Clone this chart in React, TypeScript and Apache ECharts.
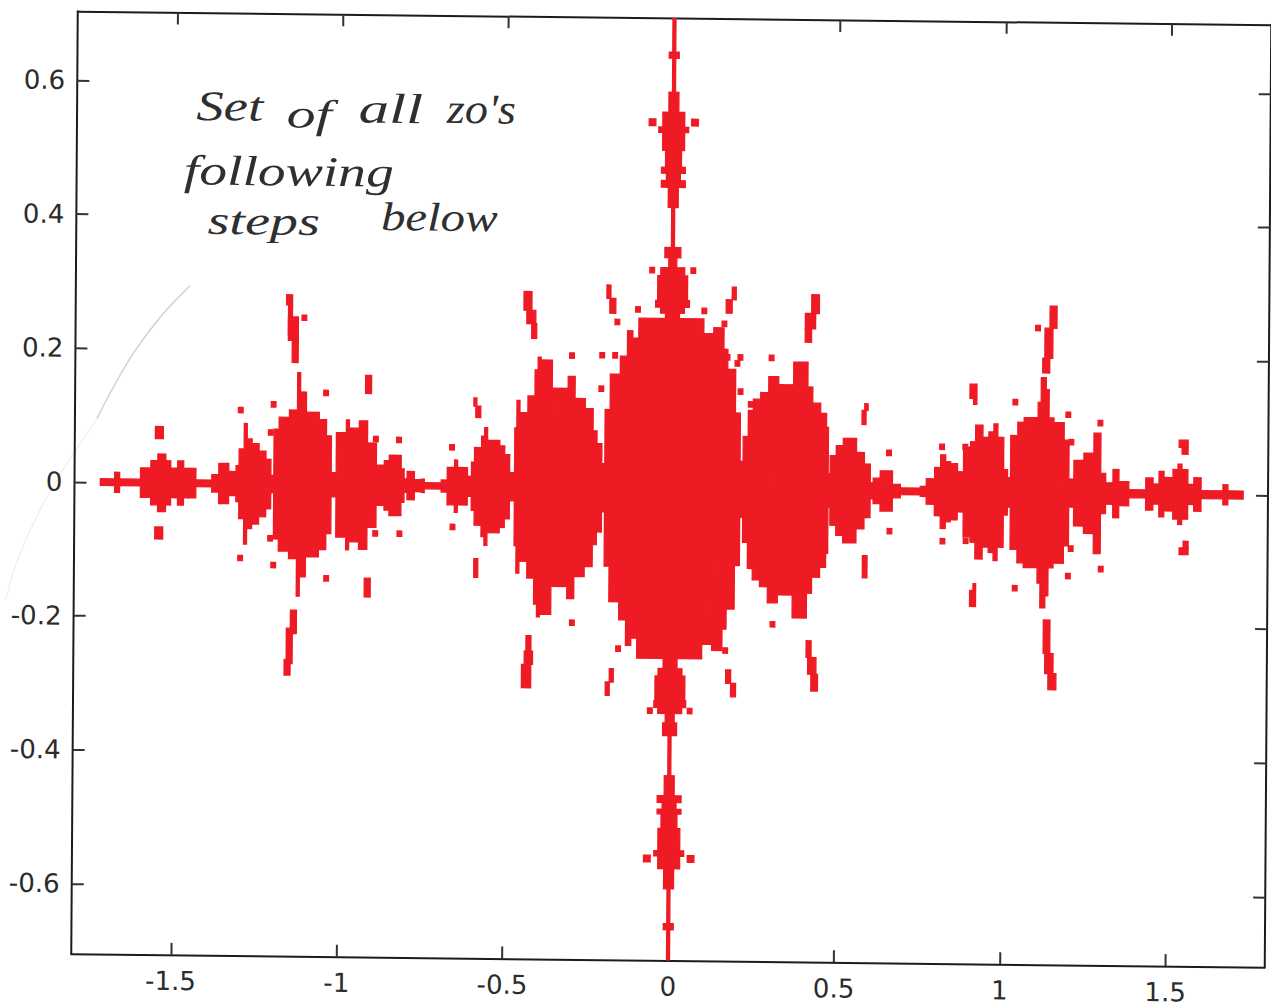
import React, { useEffect, useRef } from "react";
import * as echarts from "echarts";

const xTicks = [-1.5, -1, -0.5, 0, 0.5, 1, 1.5];
const yTicks = [-0.6, -0.4, -0.2, 0, 0.2, 0.4, 0.6];

// Column edges of the filled set along the real axis, and the half height of each column.
const edgeX = [
  -1.722, -1.679, -1.664, -1.601, -1.57, -1.549, -1.525, -1.51, -1.489, -1.471, -1.456, -1.434, -1.386, -1.365, -1.335,
  -1.313, -1.304, -1.289, -1.28, -1.265, -1.244, -1.223, -1.208, -1.199, -1.184, -1.153, -1.129, -1.12, -1.102, -1.063,
  -1.041, -1.026, -1.011, -0.981, -0.972, -0.942, -0.917, -0.89, -0.866, -0.851, -0.815, -0.806, -0.797, -0.775, -0.754,
  -0.745, -0.694, -0.676, -0.654, -0.645, -0.615, -0.603, -0.594, -0.573, -0.564, -0.555, -0.518, -0.503, -0.488, -0.473,
  -0.467, -0.458, -0.434, -0.413, -0.404, -0.395, -0.361, -0.313, -0.292, -0.261, -0.237, -0.225, -0.21, -0.201, -0.186,
  -0.156, -0.135, -0.119, -0.101, 0.095, 0.125, 0.156, 0.168, 0.192, 0.207, 0.216, 0.231, 0.246, 0.268, 0.292,
  0.322, 0.367, 0.41, 0.425, 0.449, 0.467, 0.473, 0.479, 0.497, 0.518, 0.558, 0.582, 0.6, 0.609, 0.63,
  0.667, 0.691, 0.751, 0.769, 0.794, 0.812, 0.827, 0.842, 0.863, 0.881, 0.902, 0.917, 0.939, 0.957, 0.972,
  0.984, 1.002, 1.014, 1.023, 1.044, 1.063, 1.105, 1.114, 1.129, 1.138, 1.153, 1.184, 1.199, 1.214, 1.244,
  1.274, 1.295, 1.31, 1.332, 1.35, 1.38, 1.431, 1.453, 1.471, 1.486, 1.513, 1.528, 1.54, 1.558, 1.576,
  1.598, 1.664, 1.679, 1.725,
];
const halfHeight = [
  0.005, 0.015, 0.005, 0.022, 0.033, 0.043, 0.033, 0.022, 0.033, 0.022, 0.022, 0.005, 0.013, 0.03,
  0.018, 0.027, 0.052, 0.09, 0.067, 0.06, 0.049, 0.037, 0.013, 0.082, 0.1, 0.111, 0.167, 0.138, 0.108,
  0.097, 0.073, 0.018, 0.078, 0.097, 0.085, 0.096, 0.063, 0.03, 0.037, 0.045, 0.025, 0.01, 0.021, 0.009,
  0.01, 0.0045, 0.009, 0.028, 0.039, 0.028, 0.015, 0.036, 0.058, 0.075, 0.088, 0.069, 0.061, 0.048, 0.021,
  0.088, 0.129, 0.111, 0.136, 0.175, 0.194, 0.19, 0.148, 0.166, 0.133, 0.118, 0.085, 0.066, 0.036, 0.117,
  0.17, 0.197, 0.235, 0.224, 0.254, 0.232, 0.241, 0.209, 0.179, 0.114, 0.042, 0.079, 0.118, 0.135, 0.145,
  0.169, 0.157, 0.191, 0.154, 0.13, 0.115, 0.094, 0.025, 0.052, 0.067, 0.078, 0.057, 0.04, 0.012, 0.019,
  0.03, 0.01, 0.005, 0.0075, 0.019, 0.036, 0.055, 0.045, 0.042, 0.03, 0.067, 0.075, 0.1, 0.082, 0.09,
  0.102, 0.082, 0.034, 0.022, 0.085, 0.105, 0.112, 0.135, 0.172, 0.154, 0.112, 0.105, 0.079, 0.021, 0.049,
  0.06, 0.09, 0.03, 0.016, 0.036, 0.018, 0.006, 0.024, 0.015, 0.034, 0.025, 0.037, 0.045, 0.037, 0.015,
  0.025, 0.006, 0.015, 0.006,
];

// Spine on the imaginary axis: [half width, lower y, upper y].
const upperSpine = [
  [0.0045, 0.36, 0.703], [0.015, 0.643, 0.652], [0.015, 0.562, 0.592], [0.033, 0.505, 0.562], [0.045, 0.532, 0.54],
  [0.024, 0.48, 0.505], [0.036, 0.471, 0.48], [0.021, 0.46, 0.471], [0.036, 0.45, 0.46], [0.015, 0.42, 0.45],
  [0.024, 0.345, 0.36], [0.012, 0.33, 0.345], [0.036, 0.318, 0.33], [0.045, 0.281, 0.318], [0.051, 0.271, 0.281],
  [0.036, 0.262, 0.271], [0.021, 0.25, 0.262],
];
const lowerSpine = [
  [0.021, -0.269, -0.25], [0.036, -0.28, -0.269], [0.045, -0.317, -0.28], [0.048, -0.327, -0.317], [0.036, -0.336, -0.327],
  [0.0135, -0.35, -0.336], [0.021, -0.369, -0.35], [0.0045, -0.705, -0.369], [0.015, -0.459, -0.429], [0.036, -0.469, -0.459],
  [0.021, -0.479, -0.469], [0.036, -0.486, -0.479], [0.024, -0.508, -0.486], [0.033, -0.541, -0.508], [0.045, -0.549, -0.541],
  [0.033, -0.568, -0.549], [0.015, -0.598, -0.568], [0.015, -0.659, -0.65],
];

// Detached pieces: [x0, x1, y0, y1].
const armPieces = [
  [-1.557, -1.533, 0.066, 0.084], [-1.557, -1.533, -0.084, -0.066],
  [-1.164, -1.146, 0.268, 0.283], [-1.158, -1.146, 0.223, 0.268], [-1.158, -1.128, 0.215, 0.25], [-1.146, -1.128, 0.182, 0.223],
  [-1.146, -1.128, -0.223, -0.188], [-1.158, -1.14, -0.268, -0.215], [-1.164, -1.146, -0.285, -0.262],
  [-0.924, -0.906, 0.137, 0.164], [-0.924, -0.906, -0.167, -0.139],
  [-0.448, -0.424, 0.264, 0.292], [-0.439, -0.412, 0.244, 0.264], [-0.424, -0.409, 0.222, 0.244],
  [-0.435, -0.42, -0.245, -0.222], [-0.44, -0.415, -0.265, -0.245], [-0.448, -0.42, -0.3, -0.265],
  [-0.198, -0.186, 0.283, 0.303], [-0.189, -0.171, 0.261, 0.283],
  [0.18, 0.192, 0.283, 0.302], [0.162, 0.18, 0.263, 0.283],
  [-0.195, -0.183, -0.31, -0.29], [-0.183, -0.171, -0.29, -0.27],
  [0.168, 0.183, -0.29, -0.27], [0.183, 0.198, -0.31, -0.29],
  [-0.597, -0.588, 0.12, 0.132], [-0.591, -0.576, 0.103, 0.12], [-0.594, -0.582, -0.136, -0.108],
  [0.574, 0.586, 0.099, 0.12], [0.582, 0.592, 0.12, 0.13], [0.578, 0.592, -0.13, -0.097],
  [0.42, 0.443, 0.264, 0.292], [0.401, 0.432, 0.241, 0.264], [0.401, 0.42, 0.221, 0.241],
  [0.41, 0.425, -0.25, -0.225], [0.415, 0.44, -0.275, -0.25], [0.425, 0.445, -0.3, -0.275],
  [1.139, 1.16, 0.246, 0.279], [1.124, 1.148, 0.201, 0.246], [1.118, 1.139, 0.179, 0.201],
  [1.125, 1.145, -0.24, -0.19], [1.13, 1.155, -0.27, -0.24], [1.14, 1.164, -0.294, -0.27],
  [0.899, 0.92, 0.14, 0.161], [0.91, 0.92, 0.131, 0.14], [0.902, 0.92, -0.171, -0.147], [0.912, 0.92, -0.147, -0.137],
  [1.531, 1.558, 0.07, 0.081], [1.54, 1.558, 0.06, 0.07], [1.533, 1.56, -0.09, -0.08], [1.545, 1.56, -0.08, -0.07],
  [-0.074, -0.054, 0.542, 0.552], [0.054, 0.074, 0.542, 0.552], [-0.076, -0.056, -0.558, -0.548], [0.056, 0.076, -0.558, -0.548],
];

// Isolated single cells.
const dotX = [
  -1.3, -1.201, -1.043, -1.11, -1.209, -0.822, -0.892, -1.299, -1.199, -1.039, -1.209, -0.892, -0.819,
  1.103, 1.036, 1.196, 1.293, 1.206, 0.816, 0.886, 1.198, 1.038, 1.297, 1.206, 0.889, 0.819,
  -0.662, -0.302, -0.104, -0.211, -0.172, -0.213, -0.166, 0.096, 0.157, 0.167, 0.206, 0.197, 0.207, 0.238, 0.3, 0.656,
  -0.297, -0.157, 0.166, 0.308, -0.659, 0.659, -0.062, 0.062, -0.06, 0.06,
];
const dotY = [
  0.11, 0.119, 0.137, 0.249, 0.077, 0.068, 0.069, -0.111, -0.121, -0.14, -0.081, -0.072, -0.072,
  0.246, 0.135, 0.117, 0.105, 0.076, 0.067, 0.067, -0.124, -0.143, -0.113, -0.083, -0.073, -0.074,
  0.058, 0.197, 0.267, 0.198, 0.198, 0.148, 0.248, 0.266, 0.247, 0.197, 0.197, 0.188, 0.146, 0.127, 0.197, 0.057,
  -0.202, -0.24, -0.241, -0.201, -0.061, -0.06, 0.326, 0.326, -0.332, -0.332,
];

const noteWords = [
  { text: "Set", x: 193, y: 111, size: 42, stretch: 1.3 },
  { text: "of", x: 283, y: 118, size: 40, stretch: 1.45 },
  { text: "all", x: 355, y: 111, size: 42, stretch: 1.45 },
  { text: "zo's", x: 443, y: 111, size: 42, stretch: 1.1 },
  { text: "following", x: 181, y: 175, size: 42, stretch: 1.32 },
  { text: "steps", x: 205, y: 225, size: 40, stretch: 1.4 },
  { text: "below", x: 378, y: 219, size: 40, stretch: 1.22 },
];

const RED = "#ee1b24";
const INK = "#2b2b2b";

export default function App() {
  const ref = useRef<HTMLDivElement>(null);
  useEffect(() => {
    const chart = echarts.init(ref.current!, undefined, { renderer: "svg" });
    const rows: number[][] = [];
    halfHeight.forEach((h, i) => rows.push([edgeX[i], edgeX[i + 1], -h, h]));
    upperSpine.forEach(([w, a, b]) => rows.push([-w, w, a, b]));
    lowerSpine.forEach(([w, a, b]) => rows.push([-w, w, a, b]));
    armPieces.forEach((p) => rows.push(p));
    dotX.forEach((x, i) => rows.push([x - 0.007, x + 0.007, dotY[i] - 0.004, dotY[i] + 0.004]));

    const xBase = { type: "value", min: -1.8, max: 1.8, splitLine: { show: false } };
    const yBase = { type: "value", min: -0.705, max: 0.703, splitLine: { show: false } };
    const line = { show: true, onZero: false, lineStyle: { color: "#1c1c1c", width: 2 } };
    const tick = (customValues: number[]) => ({
      show: true,
      inside: true,
      length: 12,
      customValues,
      lineStyle: { color: "#333", width: 2 },
    });
    chart.setOption({
      animation: false,
      backgroundColor: "#ffffff",
      grid: { left: 74, top: 17.5, width: 1191, height: 941, containLabel: false },
      xAxis: [
        {
          ...xBase,
          position: "bottom",
          axisLine: line,
          axisTick: tick(xTicks),
          axisLabel: {
            customValues: xTicks,
            margin: 13,
            fontFamily: "DejaVu Sans",
            fontSize: 26,
            color: INK,
          },
        },
        { ...xBase, position: "top", axisLine: line, axisTick: tick(xTicks), axisLabel: { show: false } },
      ],
      yAxis: [
        {
          ...yBase,
          position: "left",
          axisLine: line,
          axisTick: tick(yTicks),
          axisLabel: {
            customValues: yTicks,
            margin: 12,
            fontFamily: "DejaVu Sans",
            fontSize: 26,
            color: INK,
          },
        },
        { ...yBase, position: "right", axisLine: line, axisTick: tick(yTicks), axisLabel: { show: false } },
      ],
      series: [
        {
          type: "custom",
          xAxisIndex: 0,
          yAxisIndex: 0,
          clip: true,
          silent: true,
          encode: { x: [0, 1], y: [2, 3] },
          data: rows,
          renderItem: (_p: unknown, api: any) => {
            const a = api.coord([api.value(0), api.value(3)]);
            const b = api.coord([api.value(1), api.value(2)]);
            return {
              type: "rect",
              shape: { x: a[0], y: a[1], width: b[0] - a[0], height: b[1] - a[1] },
              style: { fill: RED, stroke: RED, lineWidth: 1.3 },
            };
          },
        },
      ],
      graphic: [
        {
          type: "polyline",
          silent: true,
          z: 0,
          shape: { points: [[188, 290], [160, 320], [132, 358], [108, 400], [96, 424]], smooth: 0.3 },
          style: { fill: "none", stroke: "#cfcfcf", lineWidth: 1.4 },
        },
        {
          type: "polyline",
          silent: true,
          z: 0,
          shape: { points: [[96, 424], [66, 470], [40, 515], [18, 565], [6, 606]], smooth: 0.3 },
          style: { fill: "none", stroke: "#efefef", lineWidth: 1.2 },
        },
        ...noteWords.map((w) => ({
          type: "text",
          x: w.x,
          y: w.y,
          scaleX: w.stretch,
          silent: true,
          z: 5,
          style: {
            text: w.text,
            fill: "#2f2f2f",
            font: `italic ${w.size}px "Liberation Serif"`,
            textVerticalAlign: "middle",
          },
        })),
      ],
    });
    return () => chart.dispose();
  }, []);
  return (
    <div style={{ position: "fixed", left: 0, top: 0, width: 1271, height: 1008, overflow: "hidden", background: "#fff" }}>
      <div
        ref={ref}
        style={{
          position: "absolute",
          left: 0,
          top: 0,
          width: 1271,
          height: 1008,
          transform: "matrix(1.0021, 0.01134, -0.00691, 1.0016, 1.75, 1.25)",
          transformOrigin: "669.5px 488px",
        }}
      />
    </div>
  );
}
